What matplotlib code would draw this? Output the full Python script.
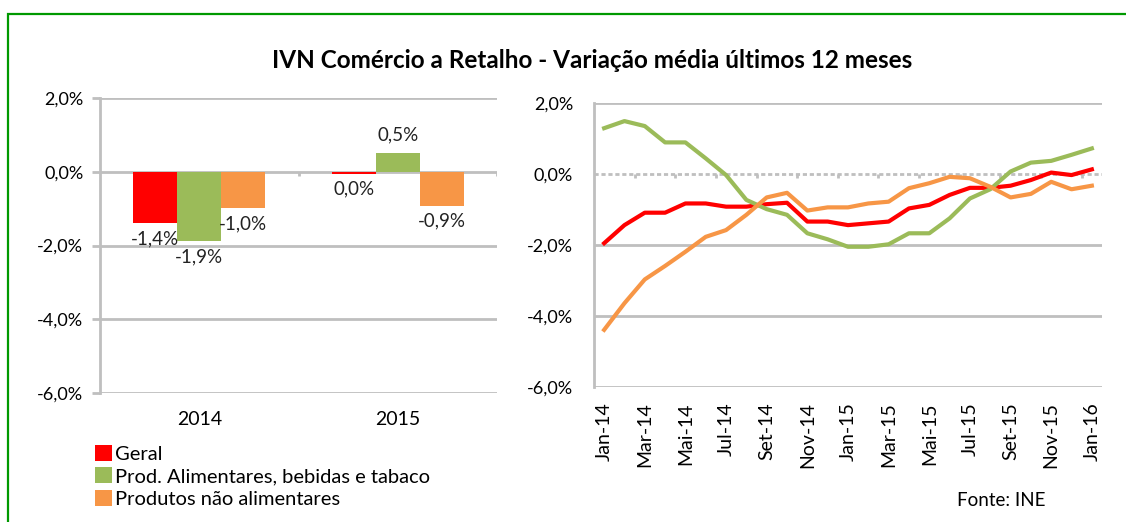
import numpy as np
import matplotlib
matplotlib.use("Agg")
import matplotlib.pyplot as plt
from matplotlib.patches import Patch, Rectangle

plt.rcParams['font.family'] = ['Lato', 'DejaVu Sans']

# dados - barras (media anual)
anos = ["2014", "2015"]
bar_geral = [-1.4, -0.05]
bar_alim = [-1.88, 0.52]
bar_nao_alim = [-0.99, -0.93]
bar_labels = [["-1,4%", "0,0%"], ["-1,9%", "0,5%"], ["-1,0%", "-0,9%"]]

# dados - linhas (variacao media ultimos 12 meses)
meses = ["Jan", "Fev", "Mar", "Abr", "Mai", "Jun", "Jul", "Ago", "Set", "Out", "Nov", "Dez"]
datas = [f"{m}-{a}" for a in ["14", "15"] for m in meses] + ["Jan-16"]
geral = [-1.95, -1.44, -1.09, -1.09, -0.83, -0.83, -0.92, -0.92, -0.85, -0.81, -1.34, -1.34,
         -1.44, -1.39, -1.34, -0.97, -0.87, -0.59, -0.39, -0.39, -0.33, -0.17, 0.04, -0.03, 0.13]
alim = [1.29, 1.49, 1.35, 0.89, 0.89, 0.44, -0.03, -0.73, -0.99, -1.15, -1.67, -1.84,
        -2.05, -2.05, -1.98, -1.67, -1.67, -1.25, -0.69, -0.43, 0.07, 0.32, 0.37, 0.54, 0.72]
nao_alim = [-4.39, -3.64, -2.97, -2.59, -2.19, -1.77, -1.58, -1.15, -0.66, -0.53, -1.03, -0.94,
            -0.94, -0.83, -0.78, -0.40, -0.26, -0.08, -0.12, -0.36, -0.66, -0.56, -0.22, -0.43, -0.33]

nomes = ["Geral", "Prod. Alimentares, bebidas e tabaco", "Produtos não alimentares"]
cores = ["#FF0000", "#9BBB59", "#F79646"]
cinza = "#BFBFBF"
yticks = [2, 0, -2, -4, -6]

def pct(v):
    return f"{v:.1f}%".replace(".", ",")

fig = plt.figure(figsize=(11.26, 5.22), dpi=100)

# moldura verde
fig.patches.append(Rectangle((8 / 1126, -0.2), 1.5, 1.2 - 14 / 522, transform=fig.transFigure,
                             fill=False, edgecolor="#009900", lw=1.6))

# ---- grafico de barras ----
ax1 = fig.add_axes([0.0888, 0.2471, 0.3526, 0.5651])
x = np.arange(len(anos))
w = 0.222
series = [bar_geral, bar_alim, bar_nao_alim]
for i, (vals, cor) in enumerate(zip(series, cores)):
    pos = x + (i - 1) * w
    ax1.bar(pos, vals, width=w, color=cor, zorder=3)
    for p, v, lab in zip(pos, vals, bar_labels[i]):
        off = 13 if v > 0 else -11
        ax1.annotate(lab, (p, v), xytext=(0, off), textcoords="offset points",
                     ha="center", va="center", fontsize=13.5, color="#222222", zorder=4)

ax1.set_xlim(-0.5, 1.5)
ax1.set_ylim(-6, 2)
ax1.set_yticks(yticks)
ax1.set_yticklabels([pct(v) for v in yticks])
ax1.set_xticks(x)
ax1.set_xticklabels(anos)
for v in yticks:
    ax1.axhline(v, color=cinza, lw=2, zorder=1)
ax1.vlines([0.5, 1.5], -0.12, 0, color=cinza, lw=2, zorder=1)
for s in ["top", "right", "bottom"]:
    ax1.spines[s].set_visible(False)
ax1.spines["left"].set_color(cinza)
ax1.spines["left"].set_linewidth(2)
ax1.tick_params(axis="y", length=6, width=2, color=cinza, labelsize=13, pad=6)
ax1.tick_params(axis="x", length=0, labelsize=14, pad=13)

# ---- grafico de linhas ----
ax2 = fig.add_axes([0.5275, 0.2586, 0.4512, 0.5441])
xs = np.arange(len(datas))
ax2.plot(xs, geral, color=cores[0], lw=3, zorder=3, solid_joinstyle="round")
ax2.plot(xs, alim, color=cores[1], lw=3, zorder=3, solid_joinstyle="round")
ax2.plot(xs, nao_alim, color=cores[2], lw=3, zorder=3, solid_joinstyle="round")
ax2.set_xlim(-0.5, len(datas) - 0.5)
ax2.set_ylim(-6, 2)
for v in yticks:
    if v == 0:
        ax2.axhline(v, color=cinza, lw=2, ls=(0, (1.5, 1)), zorder=1)
    else:
        ax2.axhline(v, color=cinza, lw=2, zorder=1)
ax2.vlines(np.arange(1.5, len(datas) - 1, 2), -0.12, 0, color=cinza, lw=2, zorder=1)
ax2.set_yticks(yticks)
ax2.set_yticklabels([pct(v) for v in yticks])
ax2.set_xticks(xs[::2])
ax2.set_xticklabels(datas[::2], rotation=90)
for s in ["top", "right", "bottom"]:
    ax2.spines[s].set_visible(False)
ax2.spines["left"].set_color(cinza)
ax2.spines["left"].set_linewidth(2)
ax2.tick_params(axis="y", length=0, labelsize=13, pad=15)
ax2.tick_params(axis="x", length=0, labelsize=14, pad=11)

# titulo, legenda, fonte
fig.text(0.526, 1 - 60 / 522, "IVN Comércio a Retalho - Variação média últimos 12 meses",
         ha="center", va="center", fontsize=17.5, fontweight="bold")
handles = [Patch(facecolor=c, edgecolor="none") for c in cores]
fig.legend(handles, nomes, loc="upper left", bbox_to_anchor=(0.0845, 0.148), frameon=False,
           fontsize=14.5, handlelength=0.85, handleheight=0.85, handletextpad=0.15,
           labelspacing=0.22, borderpad=0, borderaxespad=0)
fig.text(0.889, 1 - 500 / 522, "Fonte: INE", ha="center", va="center", fontsize=13.5)

fig.savefig("out.png", dpi=100)
